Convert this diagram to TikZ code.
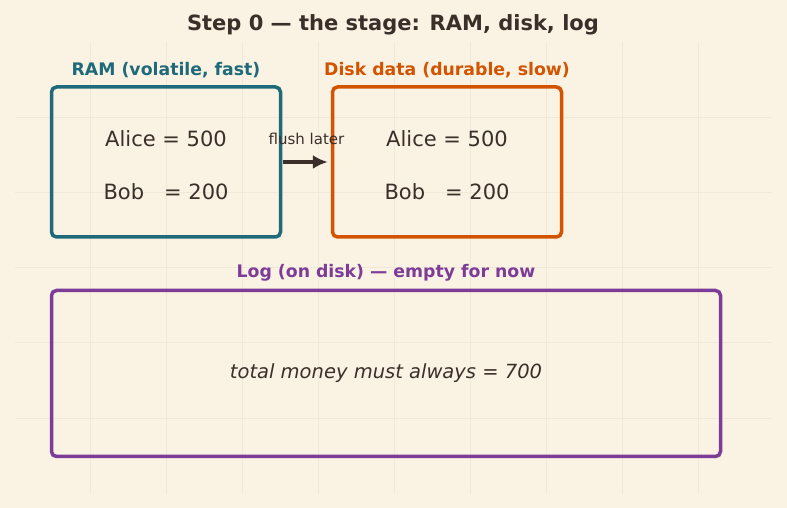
\documentclass[tikz,border=0pt]{standalone}
\usepackage{fontspec}
\setmainfont{DejaVu Sans}
\usepackage{tikz}
\usetikzlibrary{arrows.meta, positioning}
\definecolor{paper}{HTML}{FAF2E3}
\definecolor{gridline}{HTML}{F1E9D8}
\definecolor{ink}{HTML}{3A2F29}
\definecolor{ramcol}{HTML}{1E6A7A}
\definecolor{diskcol}{HTML}{D35400}
\definecolor{logcol}{HTML}{7D3C98}
\newcommand{\lift}{\rule{0pt}{22pt}}
\tikzset{
  store/.style={
    rectangle,
    rounded corners=5pt,
    line width=3.5pt,
    align=center,
    text=ink,
    font=\fontsize{21}{53}\selectfont
  },
  header/.style={
    font=\bfseries\fontsize{17.3}{20}\selectfont,
    inner sep=2pt
  },
  arrow/.style={
    -{Latex[length=15pt, width=14pt]},
    line width=3.2pt,
    draw=ink
  }
}
\begin{document}
\begin{tikzpicture}[x=1pt, y=1pt]
    % background and faint grid
    \fill[paper] (0,0) rectangle (787,508);
    \foreach \gx in {90,166,242,318,394,470,546,622,698}
      \draw[gridline, line width=0.6pt] (\gx,14) -- (\gx,466);
    \foreach \gy in {90,166,241,316,391}
      \draw[gridline, line width=0.6pt] (15,\gy) -- (772,\gy);

    \node[font=\bfseries\fontsize{21}{25}\selectfont, text=ink] (title) at (393,483) {Step 0 --- the stage: RAM, disk, log};

    \node[store, draw=ramcol, minimum width=229pt, minimum height=150pt] (ram) at (166,346) {\lift Alice = 500\\Bob\ \ \ = 200};
    \node[store, draw=diskcol, minimum width=229pt, minimum height=150pt] (disk) at (447,346) {\lift Alice = 500\\Bob\ \ \ = 200};
    \node[store, draw=logcol, minimum width=669pt, minimum height=166pt, font=\itshape\fontsize{19.5}{24}\selectfont] (log) at (386,134.5) {total money must always = 700};

    \node[header, text=ramcol, above=5.5pt of ram] (ramlabel) {RAM (volatile, fast)};
    \node[header, text=diskcol, above=5.5pt of disk] (disklabel) {Disk data (durable, slow)};
    \node[header, text=logcol, above=5.5pt of log] (loglabel) {Log (on disk) --- empty for now};

    \draw[arrow, shorten <=1pt, shorten >=3pt] (ram) -- node[above=12pt, font=\fontsize{15}{18}\selectfont, text=ink] (flush) {flush later} (disk);
\end{tikzpicture}
\end{document}
